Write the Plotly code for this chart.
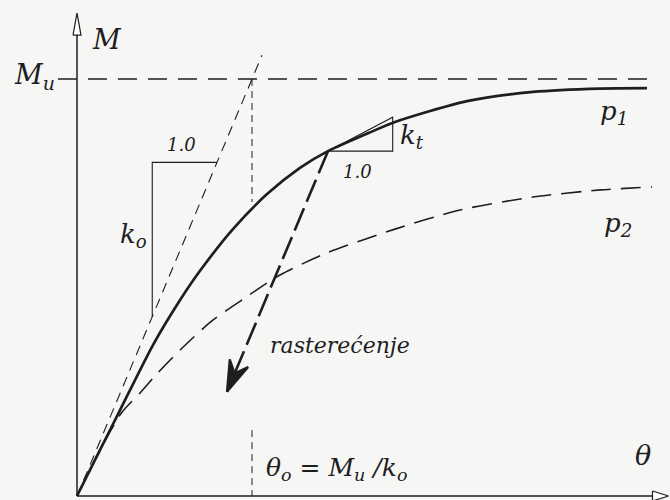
import plotly.graph_objects as go

# Moment–rotation diagram, rotation normalised by θo and moment by Mu
theta_p1 = [0.0, 0.131, 0.246, 0.434, 0.589, 0.703, 0.891, 1.086, 1.274, 1.434,
            1.691, 1.817, 2.229, 2.606, 2.989, 3.257]
moment_p1 = [0.0, 0.110, 0.206, 0.362, 0.470, 0.540, 0.640, 0.724, 0.787, 0.827,
             0.875, 0.897, 0.947, 0.969, 0.977, 0.978]

theta_p2 = [0.0, 0.131, 0.257, 0.360, 0.457, 0.589, 0.771, 0.949, 1.160, 1.429,
            1.817, 2.189, 2.606, 2.989, 3.286]
moment_p2 = [0.0, 0.110, 0.201, 0.247, 0.293, 0.350, 0.420, 0.472, 0.530, 0.583,
             0.640, 0.686, 0.717, 0.734, 0.741]

M_u = 1.0            # ultimate moment
k_o = 1.0            # initial stiffness
theta_o = M_u / k_o  # θo = Mu / ko
k_t = 0.22           # tangent stiffness at the unloading point
tangent_index = 9    # point on p1 where unloading starts
unload_to = 0.25     # moment at the end of the unloading arrow
unit_run = 0.37      # horizontal leg of the stiffness triangles
ko_tri_start = 0.43  # left corner of the ko triangle
ko_line_end = 1.057
mu_line_span = (-0.109, 3.257)
theta_o_gap = (0.158, 0.705)
x_axis_end = 3.38
y_axis_end = 1.158

X_RANGE = [-77 / 175, (670 - 77) / 175]
Y_RANGE = [-4 / 417, 496 / 417]
W, H = 670, 500
sx = (X_RANGE[1] - X_RANGE[0]) / W   # data units per pixel
sy = (Y_RANGE[1] - Y_RANGE[0]) / H

INK = "#1e1e1e"
FONT = "DejaVu Serif"

fig = go.Figure()


def line(xs, ys, width, dash="solid", color=INK, fill=None, fillcolor=None,
         spline=False):
    style = dict(color=color, width=width, dash=dash)
    if spline:
        style.update(shape="spline", smoothing=0.7)
    fig.add_trace(go.Scatter(
        x=xs, y=ys, mode="lines", hoverinfo="skip", showlegend=False,
        line=style, fill=fill, fillcolor=fillcolor))


# axes with open arrowheads
ax_len, ax_half = 16 * sx, 5 * sy
line([0, x_axis_end - ax_len], [0, 0], 1.5)
line([x_axis_end - ax_len, x_axis_end, x_axis_end - ax_len, x_axis_end - ax_len],
     [ax_half, 0, -ax_half, ax_half], 1.2, fill="toself", fillcolor="white")
ay_len, ay_half = 22 * sy, 4 * sx
line([0, 0], [0, y_axis_end - ay_len], 1.5)
line([-ay_half, 0, ay_half, -ay_half],
     [y_axis_end - ay_len, y_axis_end, y_axis_end - ay_len, y_axis_end - ay_len],
     1.2, fill="toself", fillcolor="white")

# Mu level
line(list(mu_line_span), [M_u, M_u], 1.3, dash="19px,11px")

# initial stiffness line ko
line([0, ko_line_end], [0, k_o * ko_line_end], 1.1, dash="10px,7px")

# θo marker
line([theta_o, theta_o], [M_u, theta_o_gap[1]], 1.0, dash="7px,5px")
line([theta_o, theta_o], [theta_o_gap[0], 0], 1.0, dash="7px,5px")

# ko triangle
line([ko_tri_start, ko_tri_start, ko_tri_start + unit_run],
     [k_o * ko_tri_start, k_o * (ko_tri_start + unit_run), k_o * (ko_tri_start + unit_run)], 1.1)

# curves p1 and p2
line(theta_p2, moment_p2, 1.6, dash="20px,10px", spline=True)
line(theta_p1, moment_p1, 2.7, spline=True)

# kt triangle at the unloading point
t0, m0 = theta_p1[tangent_index], moment_p1[tangent_index]
line([t0, t0 + unit_run, t0 + unit_run, t0],
     [m0, m0, m0 + k_t * unit_run, m0], 1.1)

# unloading path (slope ko) with a barbed arrowhead
t1 = t0 - (m0 - unload_to) / k_o
line([t0, t1], [m0, unload_to], 2.6, dash="24px,7px")
dxp, dyp = (t0 - t1) / sx, (m0 - unload_to) / sy
norm = (dxp ** 2 + dyp ** 2) ** 0.5
ux, uy = dxp / norm, dyp / norm
nx, ny = uy, -ux


def pt(a, b):
    return t1 + (a * ux + b * nx) * sx, unload_to + (a * uy + b * ny) * sy


head = [pt(0, 0), pt(31, -10), pt(20, 0), pt(31, 10), pt(0, 0)]
line([p[0] for p in head], [p[1] for p in head], 2.2, fill="toself", fillcolor=INK)


def label(text, x, y, size, xanchor="center"):
    fig.add_annotation(x=x, y=y, xref="x", yref="y", text=text, showarrow=False,
                       xanchor=xanchor, yanchor="middle",
                       font=dict(family=FONT, size=size, color=INK))


label("<i>M</i>", 30 * sx, 1.095, 27)
label("<i>M<sub>u</sub></i>", -0.37, 1.005, 27, xanchor="left")
label("<i>1.0</i>", ko_tri_start + unit_run * 0.45, 0.842, 18)
label("<i>k<sub>o</sub></i>", ko_tri_start - 0.11, 0.625, 26)
label("<i>1.0</i>", t0 + unit_run * 0.45, m0 - 0.05, 18)
label("<i>k<sub>t</sub></i>", t0 + unit_run + 0.11, m0 + 0.035, 26)
label("<i>p<sub>1</sub></i>", 3.07, 0.92, 26)
label("<i>p<sub>2</sub></i>", 3.09, 0.65, 26)
label("<i>rasterećenje</i>", 1.5, 0.36, 22)
label("<i>θ<sub>o</sub> = M<sub>u</sub> /k<sub>o</sub></i>", theta_o + 0.07, 0.065, 25,
      xanchor="left")
label("<i>θ</i>", 3.235, 0.096, 27)

fig.update_layout(
    width=W, height=H, margin=dict(l=0, r=0, t=0, b=0),
    paper_bgcolor="#f6f6f4", plot_bgcolor="#f6f6f4",
    xaxis=dict(range=X_RANGE, visible=False, fixedrange=True),
    yaxis=dict(range=Y_RANGE, visible=False, fixedrange=True),
    showlegend=False,
)

fig.write_html("out.html")
